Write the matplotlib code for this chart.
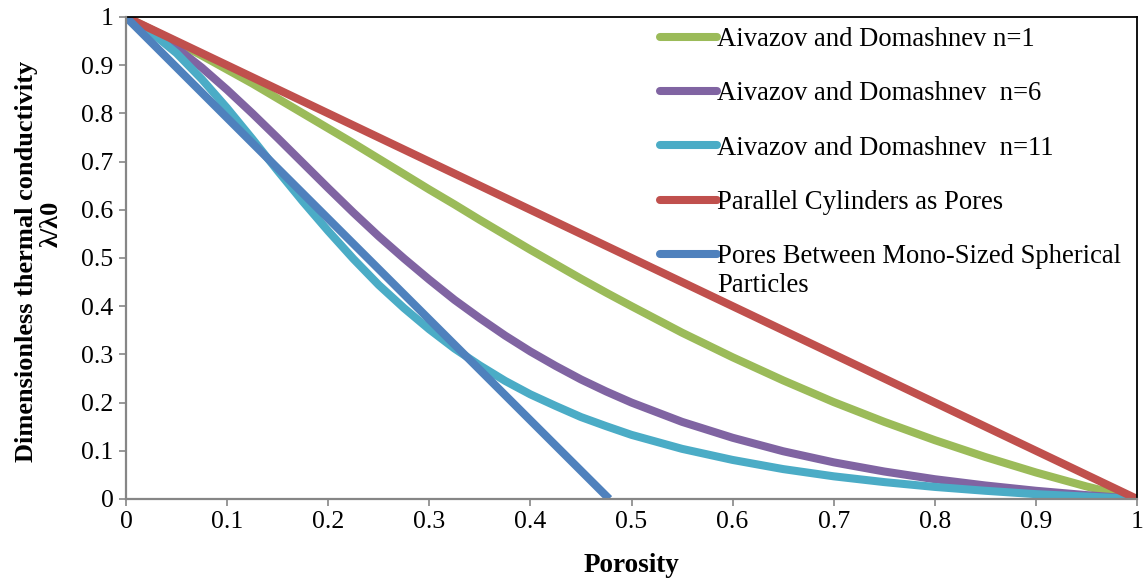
import matplotlib
matplotlib.use("Agg")
import matplotlib.pyplot as plt

plt.rcParams["font.family"] = ["Liberation Serif", "DejaVu Serif"]

# Porosity grid for the Aivazov & Domashnev curves (denser where they bend)
porosity = [0.000, 0.025, 0.050, 0.075, 0.100, 0.125, 0.150, 0.175, 0.200, 0.225,
            0.250, 0.275, 0.300, 0.325, 0.350, 0.375, 0.400, 0.425, 0.450, 0.475,
            0.50, 0.55, 0.60, 0.65, 0.70, 0.75, 0.80, 0.85, 0.90, 0.95, 1.00]

ad_n1 = [1.000, 0.974, 0.948, 0.920, 0.891, 0.862, 0.831, 0.800, 0.769, 0.738,
         0.706, 0.674, 0.642, 0.611, 0.579, 0.548, 0.517, 0.487, 0.457, 0.428,
         0.400, 0.345, 0.294, 0.246, 0.201, 0.160, 0.122, 0.087, 0.055, 0.026, 0.000]
ad_n6 = [1.000, 0.971, 0.936, 0.895, 0.849, 0.800, 0.749, 0.697, 0.645, 0.594,
         0.545, 0.499, 0.455, 0.413, 0.375, 0.339, 0.306, 0.276, 0.248, 0.223,
         0.200, 0.160, 0.127, 0.099, 0.076, 0.057, 0.041, 0.028, 0.017, 0.008, 0.000]
ad_n11 = [1.000, 0.968, 0.925, 0.871, 0.811, 0.747, 0.681, 0.617, 0.556, 0.498,
          0.444, 0.396, 0.352, 0.312, 0.277, 0.245, 0.217, 0.193, 0.170, 0.151,
          0.133, 0.104, 0.081, 0.062, 0.047, 0.035, 0.025, 0.017, 0.010, 0.005, 0.000]

cyl_porosity = [0.0, 1.0]
cyl_values = [1.0, 0.0]

sph_porosity = [0.0, 0.478]
sph_values = [1.0, 0.0]

labels = ["Aivazov and Domashnev n=1",
          "Aivazov and Domashnev  n=6",
          "Aivazov and Domashnev  n=11",
          "Parallel Cylinders as Pores",
          "Pores Between Mono-Sized Spherical"]
label_extra = "Particles"
colors = ["#9BBB59", "#8064A2", "#4BACC6", "#C0504D", "#4F81BD"]

ticks = [0, 0.1, 0.2, 0.3, 0.4, 0.5, 0.6, 0.7, 0.8, 0.9, 1]
tick_labels = ["0", "0.1", "0.2", "0.3", "0.4", "0.5", "0.6", "0.7", "0.8", "0.9", "1"]

fig = plt.figure(figsize=(11.43, 5.80), dpi=100)
ax = fig.add_axes([0.1102, 0.1397, 0.8846, 0.8310])

series = [(porosity, ad_n1), (porosity, ad_n6), (porosity, ad_n11),
          (cyl_porosity, cyl_values), (sph_porosity, sph_values)]
lines = []
for (xs, ys), c, lab in zip(series, colors, labels):
    ln, = ax.plot(xs, ys, color=c, lw=5.8, solid_capstyle="butt",
                  solid_joinstyle="round", label=lab)
    lines.append(ln)

ax.set_xlim(0, 1)
ax.set_ylim(0, 1)
ax.set_xticks(ticks)
ax.set_xticklabels(tick_labels)
ax.set_yticks(ticks)
ax.set_yticklabels(tick_labels)
ax.tick_params(axis="both", direction="out", length=5, width=1.2, color="#868686",
               labelsize=18.5, pad=4)

for side in ("top", "right"):
    ax.spines[side].set_color("black")
    ax.spines[side].set_linewidth(1.3)
for side in ("left", "bottom"):
    ax.spines[side].set_color("#868686")
    ax.spines[side].set_linewidth(1.6)
    ax.spines[side].set_zorder(5)

leg = ax.legend(handles=lines, loc="upper left", bbox_to_anchor=(0.528, 0.979),
                frameon=False, fontsize=19.2, handlelength=2.15, handletextpad=0.0,
                labelspacing=1.1, borderaxespad=0, borderpad=0)
for h in leg.legend_handles:
    h.set_solid_capstyle("round")
    h.set_linewidth(5.8)

fig.canvas.draw()
last = leg.get_texts()[-1]
bb = last.get_window_extent()
x0, y0 = fig.transFigure.inverted().transform((bb.x0, bb.y0))
fig.text(x0, y0 - 0.006, label_extra, fontsize=19.2, ha="left", va="top")

ax.set_xlabel("Porosity", fontsize=19.5, fontweight="bold", labelpad=14)
fig.text(0.023, 0.55, "Dimensionless thermal conductivity", rotation=90,
         fontsize=19, fontweight="bold", ha="center", va="center")
fig.text(0.045, 0.614, "λ/λ0", rotation=90,
         fontsize=19, fontweight="bold", ha="center", va="center")

fig.savefig("out.png", dpi=100)
